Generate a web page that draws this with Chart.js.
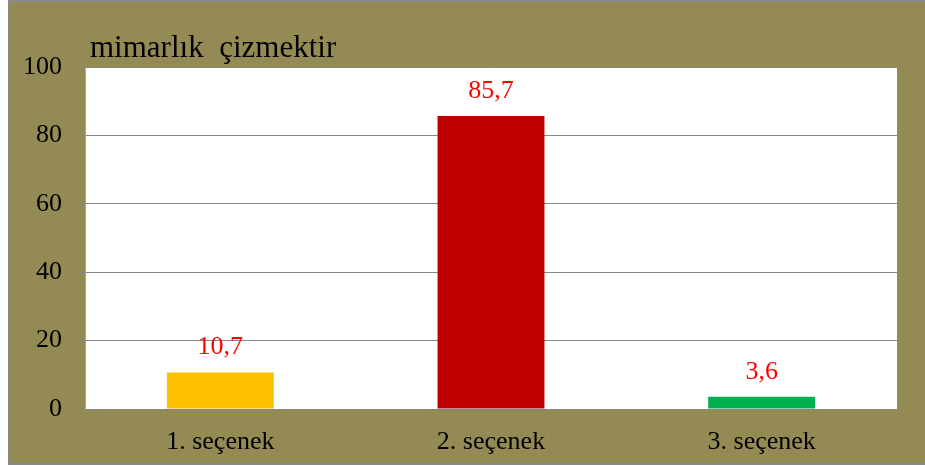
<!DOCTYPE html>
<html>
<head>
<meta charset="utf-8">
<script src="https://cdn.jsdelivr.net/npm/chart.js@4"></script>
<style>
  html, body { margin: 0; padding: 0; background: #ffffff; }
  #frame {
    position: absolute; left: 8px; top: 0; width: 916px; height: 461px;
    background: #948a54; border-left: 1px solid #8a8a8a;
    border-top: 2px solid #8a8a8a; border-bottom: 2px solid #8a8a8a;
  }
  #wrap { position: absolute; left: 0; top: 0; width: 925px; height: 465px; }
</style>
</head>
<body>
<div id="frame"></div>
<div id="wrap"><canvas id="canvas"></canvas></div>
<script>
var chartTitle = "mimarlık  çizmektir";
var categories = ["1. seçenek", "2. seçenek", "3. seçenek"];
var values = [10.7, 85.7, 3.6];
var barColors = ["#ffc000", "#c00000", "#00b050"];
var yTicks = [0, 20, 40, 60, 80, 100];

var serif = "'Liberation Serif', 'Times New Roman', serif";

// white plot area + title + value labels
var decorPlugin = {
    id: 'decor',
    beforeDraw: function(chart) {
        var ctx = chart.ctx, a = chart.chartArea;
        ctx.save();
        ctx.fillStyle = "#ffffff";
        ctx.fillRect(a.left, a.top, a.right - a.left, a.bottom - a.top);
        ctx.fillStyle = "#000000";
        ctx.font = "31px " + serif;
        ctx.textAlign = "left";
        ctx.textBaseline = "alphabetic";
        ctx.fillText(chartTitle, 90, 57);
        ctx.restore();
    },
    afterDatasetsDraw: function(chart) {
        var ctx = chart.ctx;
        var meta = chart.getDatasetMeta(0);
        ctx.save();
        ctx.fillStyle = "#ff0000";
        ctx.font = "26px " + serif;
        ctx.textAlign = "center";
        ctx.textBaseline = "alphabetic";
        meta.data.forEach(function(bar, i) {
            ctx.fillText(values[i].toString().replace('.', ','), bar.x, bar.y - 18);
        });
        ctx.restore();
    }
};

var ctx = document.getElementById("canvas").getContext("2d");
var chart = new Chart(ctx, {
    type: 'bar',
    data: {
        labels: categories,
        datasets: [{
            data: values,
            backgroundColor: barColors,
            borderWidth: 0,
            barPercentage: 0.395,
            categoryPercentage: 1.0
        }]
    },
    options: {
        responsive: true,
        maintainAspectRatio: false,
        animation: false,
        layout: { padding: { left: 0, right: 28, top: 67, bottom: 0 } },
        plugins: {
            legend: { display: false },
            title: { display: false },
            tooltip: { enabled: false }
        },
        scales: {
            x: {
                grid: { display: false, drawTicks: false },
                border: { display: false },
                ticks: { color: "#000000", font: { family: serif, size: 26 }, padding: 18 },
                afterFit: function(scale) { scale.height = 56; }
            },
            y: {
                min: 0,
                max: 100,
                afterBuildTicks: function(scale) {
                    scale.ticks = yTicks.map(function(v) { return { value: v }; });
                },
                grid: { color: "#868686", lineWidth: 1, tickLength: 8, tickColor: "#868686" },
                border: { display: true, color: "#a6a6a6" },
                ticks: { color: "#000000", font: { family: serif, size: 26 }, padding: 15 },
                afterFit: function(scale) { scale.width = 85; }
            }
        }
    },
    plugins: [decorPlugin]
});
</script>
</body>
</html>
